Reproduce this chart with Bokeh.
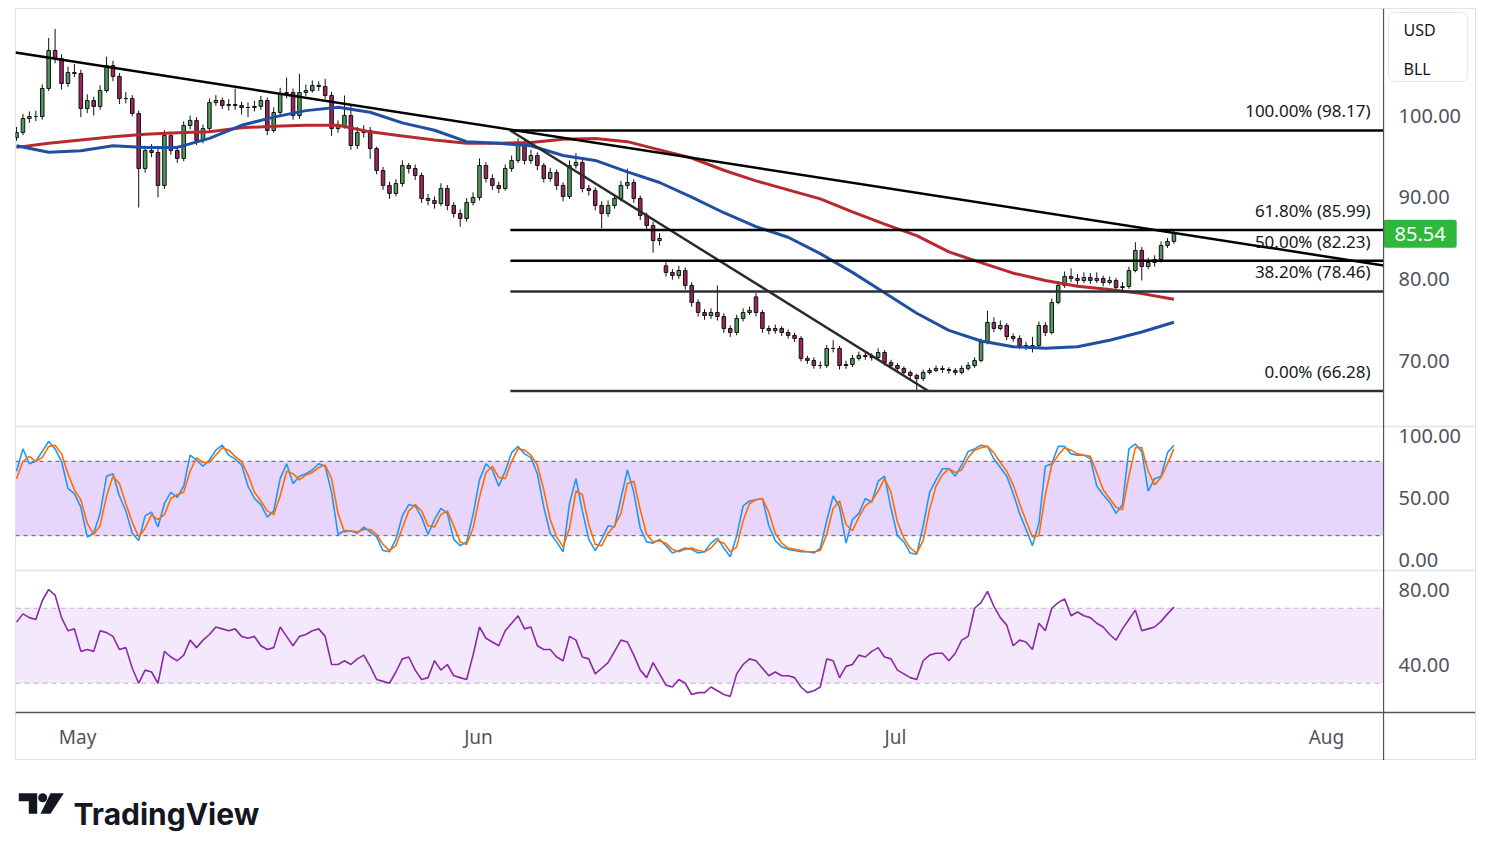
from bokeh.plotting import figure
from bokeh.layouts import column
from bokeh.models import Range1d, FixedTicker, Span, BoxAnnotation
from bokeh.embed import file_html
from bokeh.resources import INLINE
from bokeh.core.properties import value

# ---------------------------------------------------------------- price bars
opens = [97.3, 97.92, 99.64, 99.88, 99.88, 103.31, 107.96, 106.98, 103.92, 105.27,
         105.14, 100.86, 101.84, 101.11, 103.06, 106.12, 104.78, 102.08, 102.08, 100.25,
         93.52, 95.72, 95.47, 91.44, 97.56, 95.72, 94.74, 98.78, 99.40, 96.94,
         98.41, 101.60, 101.84, 101.23, 101.35, 101.23, 100.98, 100.98, 101.11, 101.84,
         98.17, 100.37, 102.70, 102.82, 100.00, 102.82, 103.06, 103.68, 103.55, 102.45,
         98.41, 98.78, 100.00, 96.33, 97.92, 98.17, 95.96, 93.27, 91.44, 90.46,
         91.68, 93.88, 93.52, 92.66, 89.84, 89.60, 89.23, 91.07, 88.99, 88.01,
         87.40, 89.35, 89.97, 93.88, 92.29, 91.44, 91.07, 93.52, 94.50, 96.58,
         94.50, 95.11, 93.88, 92.29, 93.03, 91.44, 90.09, 93.88, 94.25, 91.07,
         90.82, 88.99, 88.01, 88.99, 89.84, 91.44, 91.80, 89.84, 87.76, 86.54,
         84.70, 81.60, 80.79, 80.42, 81.03, 79.20, 77.12, 75.89, 75.52, 75.89,
         75.40, 73.93, 73.44, 75.16, 75.89, 77.80, 75.89, 73.93, 73.69, 73.93,
         73.44, 73.08, 72.71, 70.26, 70.02, 69.40, 69.40, 71.48, 71.48, 69.40,
         69.53, 70.26, 70.63, 70.51, 70.38, 70.99, 69.77, 69.40, 69.04, 68.55,
         68.18, 67.81, 68.55, 68.79, 69.04, 68.91, 68.79, 68.55, 69.04, 69.40,
         70.02, 72.22, 74.67, 73.93, 74.30, 72.95, 72.71, 71.85, 71.73, 71.85,
         74.30, 73.44, 77.12, 79.20, 80.30, 80.05, 79.81, 80.18, 79.81, 80.05,
         79.56, 79.81, 78.95, 79.07, 81.03, 83.48, 81.52, 82.01, 82.38, 84.09,
         84.58]
highs = [98.6, 100.2, 100.5, 100.6, 103.8, 109.5, 110.6, 107.5, 106.0, 106.3,
         105.6, 102.6, 102.3, 103.7, 107.2, 106.7, 105.2, 102.9, 102.5, 100.6,
         96.3, 96.5, 95.9, 98.2, 98.0, 96.3, 99.3, 100.0, 99.8, 98.9,
         102.1, 102.5, 102.2, 102.0, 103.3, 101.7, 101.6, 101.8, 102.4, 102.2,
         101.0, 103.4, 104.65, 103.3, 105.1, 103.8, 104.3, 104.2, 104.5, 102.9,
         99.4, 102.45, 101.4, 98.6, 98.8, 98.6, 96.2, 93.7, 91.9, 92.2,
         94.5, 94.2, 94.0, 93.0, 90.4, 90.1, 91.7, 91.5, 89.4, 88.5,
         89.9, 90.6, 94.75, 94.3, 92.8, 91.9, 94.0, 95.1, 97.2, 97.0,
         95.8, 95.5, 94.2, 93.6, 93.4, 91.8, 94.5, 95.4, 94.6, 91.5,
         91.2, 89.5, 89.6, 90.4, 92.0, 93.5, 92.2, 90.2, 88.1, 87.0,
         85.6, 82.1, 81.2, 81.6, 81.4, 79.6, 77.5, 76.3, 76.4, 79.2,
         75.8, 74.3, 75.6, 76.4, 76.6, 78.3, 76.2, 74.3, 74.4, 74.2,
         73.8, 73.4, 73.0, 70.6, 70.4, 69.9, 71.9, 72.5, 71.8, 70.0,
         70.7, 71.1, 71.0, 70.9, 71.5, 71.3, 70.1, 69.7, 69.3, 68.8,
         68.4, 68.9, 69.1, 69.4, 69.4, 69.2, 69.1, 69.4, 69.8, 70.4,
         72.7, 76.1, 75.3, 74.9, 74.6, 73.3, 73.1, 72.3, 72.9, 74.8,
         74.7, 77.6, 79.7, 80.9, 81.3, 80.6, 80.8, 80.7, 80.8, 80.4,
         80.3, 80.1, 79.6, 81.5, 84.5, 83.9, 82.6, 82.9, 84.6, 85.0,
         85.9]
lows = [96.9, 97.6, 99.1, 99.3, 99.5, 103.0, 106.4, 103.2, 103.5, 104.7,
        99.8, 100.3, 100.0, 100.7, 102.8, 104.2, 101.4, 101.5, 99.9, 88.74,
        93.0, 94.9, 89.97, 91.0, 95.2, 94.2, 94.4, 98.3, 96.4, 96.6,
        98.1, 101.2, 100.8, 100.6, 100.7, 100.1, 99.8, 100.5, 100.7, 97.6,
        97.9, 100.0, 102.1, 99.5, 99.6, 102.4, 102.8, 103.0, 102.0, 97.5,
        97.9, 98.4, 95.8, 95.9, 97.3, 94.7, 92.8, 90.9, 89.8, 90.1,
        91.3, 92.9, 92.1, 89.3, 89.0, 88.6, 88.9, 88.4, 87.5, 86.4,
        87.0, 89.0, 89.6, 91.8, 90.9, 90.5, 90.8, 93.1, 94.2, 94.0,
        94.1, 93.3, 91.8, 91.9, 90.9, 89.5, 89.8, 93.5, 90.6, 90.2,
        88.4, 86.2, 87.6, 88.6, 89.5, 91.0, 89.3, 87.2, 86.0, 83.2,
        84.1, 80.3, 79.9, 80.0, 78.7, 76.6, 75.4, 75.0, 75.1, 74.9,
        73.4, 72.9, 73.1, 74.8, 75.6, 75.4, 73.4, 73.2, 73.3, 73.0,
        72.7, 72.3, 69.9, 69.6, 69.0, 69.0, 69.1, 71.0, 68.9, 69.0,
        69.2, 70.0, 70.1, 70.0, 70.1, 69.4, 69.0, 68.7, 68.2, 67.8,
        66.28, 67.5, 68.3, 68.6, 68.5, 68.4, 68.2, 68.3, 68.8, 69.1,
        69.8, 72.0, 73.5, 73.7, 72.5, 72.3, 71.4, 71.3, 71.0, 71.6,
        73.0, 73.2, 76.9, 78.9, 79.6, 79.3, 79.5, 79.4, 79.5, 79.1,
        79.3, 78.5, 78.3, 78.8, 80.8, 79.8, 81.2, 81.5, 82.0, 83.8,
        84.3]
closes = [97.92, 99.64, 99.88, 99.88, 103.31, 107.96, 106.98, 103.92, 105.27, 105.14,
          100.86, 101.84, 101.11, 103.06, 106.12, 104.78, 102.08, 102.08, 100.25, 93.52,
          95.72, 95.47, 91.44, 97.56, 95.72, 94.74, 98.78, 99.40, 96.94, 98.41,
          101.60, 101.84, 101.23, 101.35, 101.23, 100.98, 100.98, 101.11, 101.84, 98.17,
          100.37, 102.70, 102.82, 100.00, 102.82, 103.06, 103.68, 103.55, 102.45, 98.41,
          98.78, 100.00, 96.33, 97.92, 98.17, 95.96, 93.27, 91.44, 90.46, 91.68,
          93.88, 93.52, 92.66, 89.84, 89.60, 89.23, 91.07, 88.99, 88.01, 87.40,
          89.35, 89.97, 93.88, 92.29, 91.44, 91.07, 93.52, 94.50, 96.58, 94.50,
          95.11, 93.88, 92.29, 93.03, 91.44, 90.09, 93.88, 94.25, 91.07, 90.82,
          88.99, 88.01, 88.99, 89.84, 91.44, 91.80, 89.84, 87.76, 86.54, 84.70,
          84.95, 80.79, 80.42, 81.03, 79.20, 77.12, 75.89, 75.52, 75.89, 75.40,
          73.93, 73.44, 75.16, 75.89, 76.14, 75.89, 73.93, 73.69, 73.93, 73.44,
          73.08, 72.71, 70.26, 70.02, 69.40, 69.40, 71.48, 71.48, 69.40, 69.53,
          70.26, 70.63, 70.51, 70.38, 70.99, 69.77, 69.40, 69.04, 68.55, 68.18,
          67.81, 68.55, 68.79, 69.04, 68.91, 68.79, 68.55, 69.04, 69.40, 70.02,
          72.22, 74.67, 73.93, 74.30, 72.95, 72.71, 71.85, 71.73, 71.85, 74.30,
          73.44, 77.12, 79.20, 80.30, 80.05, 79.81, 80.18, 79.81, 80.05, 79.56,
          79.81, 78.95, 79.07, 81.03, 83.48, 81.52, 82.01, 82.38, 84.09, 84.58,
          85.54]

# ---------------------------------------------------------------- moving averages (every 5th bar)
ma_step = 5
ma_fast = [96.3, 95.5, 95.7, 96.3, 96.1, 96.1, 97.2, 98.8, 99.8, 100.6,
           101.0, 100.4, 99.1, 98.2, 96.8, 96.6, 96.3, 95.1, 94.5, 93.1,
           91.8, 90.0, 88.1, 86.4, 85.1, 83.1, 80.8, 78.3, 75.8, 73.7,
           72.4, 71.7, 71.5, 71.7, 72.5, 73.5, 74.7]
ma_slow = [96.1, 96.6, 97.0, 97.4, 97.7, 97.9, 98.0, 98.5, 98.7, 98.8,
           98.8, 98.0, 97.5, 97.0, 96.6, 96.6, 96.7, 97.1, 97.2, 96.8,
           95.8, 94.8, 93.3, 92.0, 90.9, 89.8, 88.2, 86.7, 85.3, 83.3,
           82.0, 80.7, 79.8, 79.1, 78.7, 78.2, 77.5]

# ---------------------------------------------------------------- stochastic
stoch_k = [72, 90, 78, 80, 88, 96, 90, 80, 58, 54,
           43, 19, 22, 38, 68, 70, 52, 40, 22, 16,
           36, 39, 27, 46, 55, 51, 60, 85, 81, 76,
           81, 89, 93, 85, 82, 77, 60, 50, 45, 35,
           40, 66, 78, 62, 68, 70, 73, 78, 76, 55,
           21, 24, 24, 22, 27, 23, 19, 8, 7, 17,
           36, 45, 44, 35, 21, 33, 42, 38, 17, 12,
           15, 37, 65, 78, 73, 60, 72, 87, 92, 86,
           83, 70, 43, 22, 15, 7, 46, 66, 40, 17,
           8, 17, 28, 27, 50, 73, 55, 26, 15, 14,
           17, 12, 6, 8, 10, 9, 6, 7, 14, 18,
           10, 3, 20, 44, 48, 49, 50, 28, 16, 11,
           9, 8, 7, 7, 6, 10, 32, 52, 43, 14,
           33, 38, 50, 47, 64, 68, 42, 20, 15, 6,
           5, 28, 55, 65, 74, 74, 68, 77, 88, 90,
           93, 92, 82, 75, 68, 54, 38, 25, 12, 30,
           76, 78, 92, 92, 86, 85, 85, 82, 60, 53,
           47, 38, 45, 90, 94, 88, 56, 66, 68, 87,
           93]
stoch_d = [66, 80, 84, 80, 83, 92, 93, 86, 70, 57,
           49, 30, 21, 28, 52, 68, 62, 46, 31, 19,
           26, 37, 33, 37, 50, 53, 55, 72, 83, 79,
           79, 85, 91, 89, 84, 80, 69, 55, 48, 40,
           37, 52, 72, 70, 65, 69, 71, 75, 77, 66,
           38, 23, 24, 23, 25, 25, 21, 13, 8, 12,
           26, 40, 45, 40, 28, 27, 37, 40, 28, 15,
           13, 26, 51, 71, 76, 67, 66, 80, 90, 89,
           85, 77, 57, 33, 19, 11, 26, 56, 53, 29,
           13, 12, 22, 28, 38, 62, 64, 41, 21, 15,
           16, 14, 9, 7, 9, 10, 8, 7, 10, 16,
           14, 7, 11, 32, 46, 49, 50, 39, 22, 14,
           10, 9, 8, 7, 7, 8, 21, 42, 48, 29,
           24, 35, 44, 48, 56, 66, 55, 31, 18, 10,
           6, 16, 41, 60, 69, 74, 71, 73, 83, 89,
           91, 92, 87, 79, 72, 61, 46, 32, 19, 20,
           53, 77, 85, 91, 89, 86, 85, 84, 71, 57,
           50, 43, 41, 68, 91, 91, 72, 61, 67, 78,
           90]

# ---------------------------------------------------------------- RSI
rsi = [62.6, 67, 65, 64, 74, 80, 77, 65, 58, 59,
       47, 48, 47, 58, 57, 55, 48, 49, 38, 30,
       37, 36, 30, 47, 44, 42, 45, 53, 49, 53,
       56, 60, 59, 58, 59, 55, 54, 55, 50, 48,
       49, 60, 55, 50, 55, 56, 58, 59, 55, 40,
       40, 42, 40, 43, 45, 39, 32, 31, 30, 36,
       43, 44, 37, 32, 33, 42, 37, 40, 34, 33,
       32, 45, 60, 54, 52, 50, 58, 62, 66, 59,
       60, 50, 48, 48, 44, 42, 55, 53, 44, 43,
       35, 38, 41, 47, 53, 52, 45, 37, 33, 41,
       35, 29, 28, 32, 30, 24, 25, 25, 28, 26,
       24, 23, 35, 40, 43, 42, 38, 34, 36, 34,
       34, 33, 28, 25, 26, 28, 43, 42, 33, 39,
       40, 45, 44, 47, 49, 44, 43, 37, 35, 33,
       32, 42, 45, 46, 46, 42, 46, 53, 55, 70,
       73, 79, 71, 65, 61, 50, 53, 52, 48, 62,
       58, 70, 73, 75, 66, 68, 66, 65, 62, 60,
       56, 53, 59, 64, 69, 58, 59, 60, 63, 67,
       70.6]

# ---------------------------------------------------------------- scales, ticks and drawings
month_ticks = [9.49, 71.85, 136.70, 203.73]       # bar positions of the month starts
month_labels = ["May", "Jun", "Jul", "Aug"]
price_ticks = [70, 80, 90, 100]
stoch_ticks = [0, 50, 100]
rsi_ticks = [40, 80]
stoch_band = (20, 80)
rsi_band = (30, 70)
fib_pct = [100.0, 61.8, 50.0, 38.2, 0.0]
fib_price = [98.17, 85.99, 82.23, 78.46, 66.28]
fib_from = 76.8                                  # bar where the retracement starts
resist_x = [-0.16, 212.6]
resist_y = [107.71, 81.64]
channel_x = [76.8, 141.8]
channel_y = [98.17, 66.28]
symbol_lines = ["USD", "BLL"]

# ---------------------------------------------------------------- layout constants
X_START, X_END = -0.16, 212.6          # plotted bars; the scale column lies to the right
X_FRAME_END = 226.9
P_LO, P_HI = 21.05, 113.10             # price scale over the whole stacked frame
S_LO, S_HI = -161.29, 445.16           # stochastic scale over the whole frame
R_LO, R_HI = -11.20, 389.87            # RSI scale over the whole frame
STOCH_PANE = (-8.06, 108.06)           # stochastic pane limits on its own scale
RSI_FLOOR = 14.40                      # bottom of the RSI pane on its own scale

FONT = "Noto Sans"
AXIS_TXT = "#50535e"
SEP = "#e0e3eb"
UP, DOWN, EDGE = "#4f9a58", "#9e2361", "#111111"

bars = list(range(len(closes)))

p = figure(width=1491, height=760,
           x_range=Range1d(X_START, X_FRAME_END), y_range=Range1d(P_LO, P_HI),
           output_backend="svg", toolbar_location=None,
           x_axis_location="below", y_axis_location="right",
           min_border_left=15, min_border_right=16, min_border_top=8, min_border_bottom=0)
p.extra_y_ranges = {"stoch": Range1d(S_LO, S_HI), "rsi": Range1d(R_LO, R_HI)}
p.grid.visible = False
p.outline_line_color = SEP
p.background_fill_color = "white"
p.border_fill_color = "white"


def on_price_scale(v, lo, hi):
    return P_LO + (v - lo) / (hi - lo) * (P_HI - P_LO)


# one scale column serving the three stacked panes
ticks, tick_text = [], {}
for v in price_ticks:
    ticks.append(float(v)); tick_text[float(v)] = f"{v:.2f}"
for v in stoch_ticks:
    t = on_price_scale(v, S_LO, S_HI); ticks.append(t); tick_text[t] = f"{v:.2f}"
for v in rsi_ticks:
    t = on_price_scale(v, R_LO, R_HI); ticks.append(t); tick_text[t] = f"{v:.2f}"

ya = p.yaxis[0]
ya.ticker = FixedTicker(ticks=ticks)
ya.major_label_overrides = tick_text
ya.major_tick_line_color = None
ya.minor_tick_line_color = None
ya.major_tick_out = 0
ya.axis_line_color = None
ya.major_label_text_font = FONT
ya.major_label_text_font_size = "20px"
ya.major_label_text_color = AXIS_TXT
ya.major_label_standoff = -77          # labels sit inside the scale column

xa = p.xaxis[0]
xa.ticker = FixedTicker(ticks=month_ticks)
xa.major_label_overrides = {t: lab for t, lab in zip(month_ticks, month_labels)}
xa.major_tick_line_color = None
xa.minor_tick_line_color = None
xa.major_tick_out = 0
xa.axis_line_color = None
xa.major_label_text_font = FONT
xa.major_label_text_font_size = "19px"
xa.major_label_text_color = AXIS_TXT
xa.major_label_standoff = -37          # labels sit inside the time strip

# pane separators, time-strip rule and the scale-column divider
p.add_layout(Span(location=STOCH_PANE[1], dimension="width", y_range_name="stoch",
                  line_color=SEP, line_width=1.5))
p.add_layout(Span(location=STOCH_PANE[0], dimension="width", y_range_name="stoch",
                  line_color=SEP, line_width=1.5))
p.add_layout(Span(location=RSI_FLOOR, dimension="width", y_range_name="rsi",
                  line_color=AXIS_TXT, line_width=1.5))
p.add_layout(Span(location=X_END, dimension="height", line_color=AXIS_TXT, line_width=1.2))

# ---------------------------------------------------------------- price pane
up_i = [i for i in bars if closes[i] >= opens[i]]
dn_i = [i for i in bars if closes[i] < opens[i]]
p.segment(x0=bars, x1=bars, y0=lows, y1=highs, line_color=EDGE, line_width=1)
p.vbar(x=up_i, width=0.55, bottom=[opens[i] for i in up_i], top=[closes[i] for i in up_i],
       fill_color=UP, line_color=EDGE, line_width=1)
p.vbar(x=dn_i, width=0.55, bottom=[closes[i] for i in dn_i], top=[opens[i] for i in dn_i],
       fill_color=DOWN, line_color=EDGE, line_width=1)

ma_x = [k * ma_step for k in range(len(ma_fast))]
p.line(ma_x, ma_slow, line_color="#b8292f", line_width=3)
p.line(ma_x, ma_fast, line_color="#1f4fa3", line_width=3)

p.line(resist_x, resist_y, line_color="#000000", line_width=2.5)
p.line(channel_x, channel_y, line_color="#2b2b2b", line_width=2.5)

fib_colors = ["#000000", "#000000", "#000000", "#2a2e39", "#2a2e39"]
p.segment(x0=[fib_from] * len(fib_price), x1=[X_END] * len(fib_price),
          y0=fib_price, y1=fib_price, line_color=fib_colors, line_width=2.5)
fib_text = [f"{pc:.2f}% ({pr:.2f})" for pc, pr in zip(fib_pct, fib_price)]
p.text(x=[X_END] * len(fib_price), y=fib_price, text=fib_text, x_offset=-13, y_offset=-8,
       text_align="right", text_baseline="bottom", text_font=value(FONT),
       text_font_size="17px", text_color="#131722")

# last price tag on the scale
p.text(x=[X_END], y=[closes[-1]], text=[f"{closes[-1]:.2f}"], x_offset=0,
       text_align="left", text_baseline="middle", text_font=value(FONT),
       text_font_size="20px", text_color="white",
       background_fill_color="#2fb83a", background_fill_alpha=1.0,
       padding=dict(left=11, right=11, top=7, bottom=7), border_radius=2)

# currency / unit box
p.text(x=[X_END], y=[112.61], text=[symbol_lines[0]], x_offset=5,
       text_align="left", text_baseline="top", text_font=value(FONT),
       text_font_size="16px", text_color="#131722",
       background_fill_color="white", background_fill_alpha=1.0,
       border_line_color="#e3e6ec", border_line_width=1,
       padding=dict(left=15, right=32, top=6, bottom=41), border_radius=6)
p.text(x=[X_END], y=[105.75], text=[symbol_lines[1]], x_offset=20,
       text_align="left", text_baseline="middle", text_font=value(FONT),
       text_font_size="16px", text_color="#131722")

# ---------------------------------------------------------------- stochastic pane
p.add_layout(BoxAnnotation(left=X_START, right=X_END, bottom=stoch_band[0], top=stoch_band[1],
                           y_range_name="stoch", fill_color="#e8d5fb", fill_alpha=1.0,
                           line_color=None, level="underlay"))
p.segment(x0=[X_START] * 2, x1=[X_END] * 2, y0=list(stoch_band), y1=list(stoch_band),
          y_range_name="stoch", line_color="#555555", line_dash="4 4", line_width=1)
p.line(bars, stoch_k, y_range_name="stoch", line_color="#2196f3", line_width=1.6)
p.line(bars, stoch_d, y_range_name="stoch", line_color="#ff6d00", line_width=1.6)

# ---------------------------------------------------------------- RSI pane
p.add_layout(BoxAnnotation(left=X_START, right=X_END, bottom=rsi_band[0], top=rsi_band[1],
                           y_range_name="rsi", fill_color="#f4e8fd", fill_alpha=1.0,
                           line_color=None, level="underlay"))
p.segment(x0=[X_START] * 2, x1=[X_END] * 2, y0=list(rsi_band), y1=list(rsi_band),
          y_range_name="rsi", line_color="#bdb2cc", line_dash="5 4", line_width=1)
p.line(bars, rsi, y_range_name="rsi", line_color="#8b2aa6", line_width=1.6)

# ---------------------------------------------------------------- brand strip
p4 = figure(width=1491, height=90, x_range=Range1d(15, 1475), y_range=Range1d(90, 0),
            output_backend="svg", toolbar_location=None, x_axis_location=None,
            y_axis_location=None, min_border_left=15, min_border_right=16,
            min_border_top=0, min_border_bottom=0)
p4.grid.visible = False
p4.outline_line_color = None
p4.background_fill_color = "white"
p4.patches(xs=[[18.3, 36.7, 36.7, 28.3, 28.3, 18.3], [50.0, 63.3, 50.0, 40.0]],
           ys=[[32.7, 32.7, 53.3, 53.3, 40.7, 40.7], [32.7, 32.7, 53.3, 53.3]],
           fill_color="#131722", line_color=None)
p4.circle(x=[42.2], y=[37.2], radius=4.5, fill_color="#131722", line_color=None)
p4.text(x=[73], y=[53.3], text=["TradingView"], text_font=value("Inter"),
        text_font_style="bold", text_font_size="30px", text_baseline="alphabetic",
        text_color="#131722")

layout = column(p, p4)
open("out.html", "w").write(file_html(layout, INLINE))
